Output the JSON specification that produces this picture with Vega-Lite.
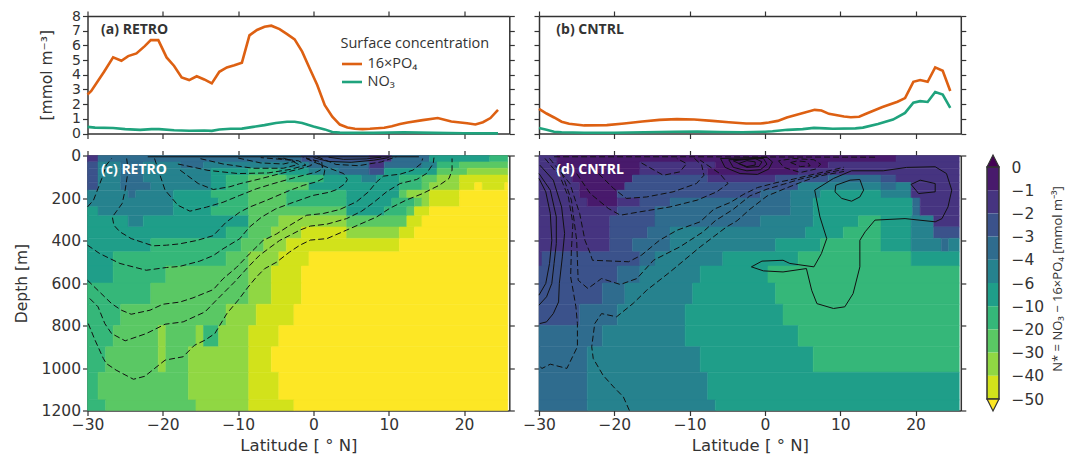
{"$schema":"https://vega.github.io/schema/vega-lite/v6.json","padding":{"left":13.5,"top":9,"right":6,"bottom":2},"background":"white","bounds":"flush","columns":3,"spacing":{"row":21.5,"column":29.5},"resolve":{"scale":{"color":"independent","stroke":"independent"}},
"config":{"view":{"stroke":null},"axis":{"grid":false,"zindex":1,"labelFlush":false,"labelOverlap":false,"format":"d","domainColor":"#333","tickColor":"#333","domainWidth":1.5,"tickWidth":1.2,"tickSize":5,"labelColor":"#333","titleColor":"#333","labelFont":"DejaVu Sans","titleFont":"DejaVu Sans","titleFontWeight":"normal","labelFontSize":15.5,"titleFontSize":15.5}},
"datasets":{
"surfA":[{"s":"16×PO₄","lat":-30,"v":2.66},{"s":"16×PO₄","lat":-29.5,"v":2.9},{"s":"16×PO₄","lat":-27.8,"v":4.2},{"s":"16×PO₄","lat":-26.6,"v":5.18},{"s":"16×PO₄","lat":-25.5,"v":4.95},{"s":"16×PO₄","lat":-24.6,"v":5.27},{"s":"16×PO₄","lat":-23.5,"v":5.45},{"s":"16×PO₄","lat":-22.4,"v":5.95},{"s":"16×PO₄","lat":-21.6,"v":6.36},{"s":"16×PO₄","lat":-20.6,"v":6.36},{"s":"16×PO₄","lat":-19.5,"v":5.18},{"s":"16×PO₄","lat":-18.5,"v":4.6},{"s":"16×PO₄","lat":-17.5,"v":3.82},{"s":"16×PO₄","lat":-16.5,"v":3.64},{"s":"16×PO₄","lat":-15.5,"v":3.9},{"s":"16×PO₄","lat":-14.5,"v":3.68},{"s":"16×PO₄","lat":-13.5,"v":3.41},{"s":"16×PO₄","lat":-12.5,"v":4.2},{"s":"16×PO₄","lat":-11.5,"v":4.5},{"s":"16×PO₄","lat":-10.5,"v":4.64},{"s":"16×PO₄","lat":-9.5,"v":4.82},{"s":"16×PO₄","lat":-8.5,"v":6.68},{"s":"16×PO₄","lat":-7.5,"v":7.05},{"s":"16×PO₄","lat":-6.5,"v":7.27},{"s":"16×PO₄","lat":-5.6,"v":7.34},{"s":"16×PO₄","lat":-4.5,"v":7.11},{"s":"16×PO₄","lat":-3.5,"v":6.77},{"s":"16×PO₄","lat":-2.5,"v":6.41},{"s":"16×PO₄","lat":-1.5,"v":5.57},{"s":"16×PO₄","lat":-0.5,"v":4.43},{"s":"16×PO₄","lat":0.5,"v":3.3},{"s":"16×PO₄","lat":1.5,"v":1.93},{"s":"16×PO₄","lat":2.5,"v":1.14},{"s":"16×PO₄","lat":3.5,"v":0.61},{"s":"16×PO₄","lat":4.5,"v":0.41},{"s":"16×PO₄","lat":5.5,"v":0.32},{"s":"16×PO₄","lat":6.5,"v":0.3},{"s":"16×PO₄","lat":7.5,"v":0.32},{"s":"16×PO₄","lat":9.4,"v":0.39},{"s":"16×PO₄","lat":10.4,"v":0.5},{"s":"16×PO₄","lat":11.5,"v":0.64},{"s":"16×PO₄","lat":12.5,"v":0.75},{"s":"16×PO₄","lat":14.5,"v":0.91},{"s":"16×PO₄","lat":16.5,"v":1.05},{"s":"16×PO₄","lat":18.3,"v":0.82},{"s":"16×PO₄","lat":20.4,"v":0.7},{"s":"16×PO₄","lat":21.5,"v":0.61},{"s":"16×PO₄","lat":22.5,"v":0.77},{"s":"16×PO₄","lat":23.5,"v":1.05},{"s":"16×PO₄","lat":24.5,"v":1.61},
{"s":"NO₃","lat":-30,"v":0.45},{"s":"NO₃","lat":-29,"v":0.4},{"s":"NO₃","lat":-26.6,"v":0.37},{"s":"NO₃","lat":-25,"v":0.3},{"s":"NO₃","lat":-23,"v":0.25},{"s":"NO₃","lat":-21.5,"v":0.3},{"s":"NO₃","lat":-20.5,"v":0.3},{"s":"NO₃","lat":-18.5,"v":0.22},{"s":"NO₃","lat":-16.5,"v":0.19},{"s":"NO₃","lat":-14.5,"v":0.2},{"s":"NO₃","lat":-13.5,"v":0.18},{"s":"NO₃","lat":-12.5,"v":0.27},{"s":"NO₃","lat":-11,"v":0.32},{"s":"NO₃","lat":-9.5,"v":0.33},{"s":"NO₃","lat":-8,"v":0.45},{"s":"NO₃","lat":-6.5,"v":0.57},{"s":"NO₃","lat":-5,"v":0.72},{"s":"NO₃","lat":-3.5,"v":0.8},{"s":"NO₃","lat":-2.5,"v":0.8},{"s":"NO₃","lat":-1.5,"v":0.72},{"s":"NO₃","lat":0,"v":0.48},{"s":"NO₃","lat":1.5,"v":0.28},{"s":"NO₃","lat":2.5,"v":0.1},{"s":"NO₃","lat":3.5,"v":0.06},{"s":"NO₃","lat":5,"v":0.04},{"s":"NO₃","lat":8,"v":0.04},{"s":"NO₃","lat":12,"v":0.08},{"s":"NO₃","lat":16,"v":0.04},{"s":"NO₃","lat":20,"v":0.02},{"s":"NO₃","lat":24.5,"v":0.01}],
"surfB":[{"s":"16×PO₄","lat":-30,"v":1.68},{"s":"16×PO₄","lat":-29,"v":1.36},{"s":"16×PO₄","lat":-28,"v":1.09},{"s":"16×PO₄","lat":-27,"v":0.8},{"s":"16×PO₄","lat":-26,"v":0.66},{"s":"16×PO₄","lat":-24,"v":0.55},{"s":"16×PO₄","lat":-21,"v":0.57},{"s":"16×PO₄","lat":-18.7,"v":0.68},{"s":"16×PO₄","lat":-16.3,"v":0.82},{"s":"16×PO₄","lat":-14,"v":0.93},{"s":"16×PO₄","lat":-11.7,"v":0.98},{"s":"16×PO₄","lat":-9.4,"v":0.95},{"s":"16×PO₄","lat":-7,"v":0.86},{"s":"16×PO₄","lat":-4.8,"v":0.77},{"s":"16×PO₄","lat":-2.5,"v":0.68},{"s":"16×PO₄","lat":-0.6,"v":0.68},{"s":"16×PO₄","lat":0.5,"v":0.75},{"s":"16×PO₄","lat":1.7,"v":0.86},{"s":"16×PO₄","lat":2.9,"v":1.09},{"s":"16×PO₄","lat":4.7,"v":1.34},{"s":"16×PO₄","lat":6.6,"v":1.61},{"s":"16×PO₄","lat":7.5,"v":1.57},{"s":"16×PO₄","lat":8.5,"v":1.34},{"s":"16×PO₄","lat":10.5,"v":1.16},{"s":"16×PO₄","lat":11.4,"v":1.11},{"s":"16×PO₄","lat":12.5,"v":1.14},{"s":"16×PO₄","lat":13.5,"v":1.36},{"s":"16×PO₄","lat":15.6,"v":1.8},{"s":"16×PO₄","lat":17.6,"v":2.16},{"s":"16×PO₄","lat":18.6,"v":2.41},{"s":"16×PO₄","lat":19.7,"v":3.52},{"s":"16×PO₄","lat":20.6,"v":3.64},{"s":"16×PO₄","lat":21.6,"v":3.52},{"s":"16×PO₄","lat":22.6,"v":4.5},{"s":"16×PO₄","lat":23.6,"v":4.27},{"s":"16×PO₄","lat":24.6,"v":2.89},
{"s":"NO₃","lat":-30,"v":0.38},{"s":"NO₃","lat":-29,"v":0.25},{"s":"NO₃","lat":-28,"v":0.12},{"s":"NO₃","lat":-27,"v":0.08},{"s":"NO₃","lat":-24,"v":0.05},{"s":"NO₃","lat":-20,"v":0.05},{"s":"NO₃","lat":-16,"v":0.08},{"s":"NO₃","lat":-12,"v":0.12},{"s":"NO₃","lat":-9,"v":0.13},{"s":"NO₃","lat":-6,"v":0.1},{"s":"NO₃","lat":-3,"v":0.09},{"s":"NO₃","lat":0,"v":0.12},{"s":"NO₃","lat":1,"v":0.15},{"s":"NO₃","lat":3,"v":0.25},{"s":"NO₃","lat":5,"v":0.3},{"s":"NO₃","lat":6.5,"v":0.38},{"s":"NO₃","lat":8,"v":0.35},{"s":"NO₃","lat":9,"v":0.32},{"s":"NO₃","lat":12,"v":0.35},{"s":"NO₃","lat":13,"v":0.4},{"s":"NO₃","lat":15,"v":0.65},{"s":"NO₃","lat":17,"v":0.95},{"s":"NO₃","lat":18.6,"v":1.4},{"s":"NO₃","lat":19.7,"v":2.1},{"s":"NO₃","lat":20.6,"v":2.2},{"s":"NO₃","lat":21.6,"v":2.15},{"s":"NO₃","lat":22.6,"v":2.83},{"s":"NO₃","lat":23.6,"v":2.65},{"s":"NO₃","lat":24.6,"v":1.75}],
"heatC":[
{"a":-30,"b":-28.6,"d0":0,"d1":30,"n":-2},{"a":-28.6,"b":-1.6,"d0":0,"d1":30,"n":-4},{"a":-1.6,"b":7.4,"d0":0,"d1":30,"n":-3},{"a":7.4,"b":10.4,"d0":0,"d1":30,"n":-2},{"a":10.4,"b":15.4,"d0":0,"d1":30,"n":-4},{"a":15.4,"b":23.4,"d0":0,"d1":30,"n":-10},{"a":23.4,"b":25.8,"d0":0,"d1":30,"n":-20},
{"a":-30,"b":-28.6,"d0":30,"d1":60,"n":-3},{"a":-28.6,"b":-25.6,"d0":30,"d1":60,"n":-6},{"a":-25.6,"b":-22.6,"d0":30,"d1":60,"n":-4},{"a":-22.6,"b":-17.6,"d0":30,"d1":60,"n":-6},{"a":-17.6,"b":-14.6,"d0":30,"d1":60,"n":-4},{"a":-14.6,"b":-0.6,"d0":30,"d1":60,"n":-6},{"a":-0.6,"b":7.4,"d0":30,"d1":60,"n":-4},{"a":7.4,"b":9.4,"d0":30,"d1":60,"n":-2},{"a":9.4,"b":14.4,"d0":30,"d1":60,"n":-4},{"a":14.4,"b":16.4,"d0":30,"d1":60,"n":-6},{"a":16.4,"b":19.4,"d0":30,"d1":60,"n":-20},{"a":19.4,"b":25.8,"d0":30,"d1":60,"n":-30},
{"a":-30,"b":-28.6,"d0":60,"d1":92,"n":-3},{"a":-28.6,"b":-25.6,"d0":60,"d1":92,"n":-6},{"a":-25.6,"b":-22.6,"d0":60,"d1":92,"n":-4},{"a":-22.6,"b":-13.6,"d0":60,"d1":92,"n":-6},{"a":-13.6,"b":-8.6,"d0":60,"d1":92,"n":-10},{"a":-8.6,"b":-4.6,"d0":60,"d1":92,"n":-20},{"a":-4.6,"b":-0.6,"d0":60,"d1":92,"n":-10},{"a":-0.6,"b":3.4,"d0":60,"d1":92,"n":-6},{"a":3.4,"b":7.4,"d0":60,"d1":92,"n":-4},{"a":7.4,"b":9.4,"d0":60,"d1":92,"n":-3},{"a":9.4,"b":16.4,"d0":60,"d1":92,"n":-10},{"a":16.4,"b":20.4,"d0":60,"d1":92,"n":-30},{"a":20.4,"b":25.8,"d0":60,"d1":92,"n":-40},
{"a":-30,"b":-28.6,"d0":92,"d1":127,"n":-3},{"a":-28.6,"b":-25.6,"d0":92,"d1":127,"n":-6},{"a":-25.6,"b":-22.6,"d0":92,"d1":127,"n":-4},{"a":-22.6,"b":-13.6,"d0":92,"d1":127,"n":-6},{"a":-13.6,"b":-11.6,"d0":92,"d1":127,"n":-10},{"a":-11.6,"b":-8.6,"d0":92,"d1":127,"n":-20},{"a":-8.6,"b":-3.6,"d0":92,"d1":127,"n":-30},{"a":-3.6,"b":1.4,"d0":92,"d1":127,"n":-20},{"a":1.4,"b":6.4,"d0":92,"d1":127,"n":-10},{"a":6.4,"b":8.4,"d0":92,"d1":127,"n":-6},{"a":8.4,"b":11.4,"d0":92,"d1":127,"n":-10},{"a":11.4,"b":14.4,"d0":92,"d1":127,"n":-20},{"a":14.4,"b":16.4,"d0":92,"d1":127,"n":-30},{"a":16.4,"b":19.4,"d0":92,"d1":127,"n":-40},{"a":19.4,"b":25.8,"d0":92,"d1":127,"n":-50},
{"a":-30,"b":-28.6,"d0":127,"d1":163,"n":-3},{"a":-28.6,"b":-25.6,"d0":127,"d1":163,"n":-6},{"a":-25.6,"b":-21.6,"d0":127,"d1":163,"n":-4},{"a":-21.6,"b":-13.6,"d0":127,"d1":163,"n":-6},{"a":-13.6,"b":-11.6,"d0":127,"d1":163,"n":-10},{"a":-11.6,"b":-8.6,"d0":127,"d1":163,"n":-20},{"a":-8.6,"b":-0.6,"d0":127,"d1":163,"n":-30},{"a":-0.6,"b":11.4,"d0":127,"d1":163,"n":-10},{"a":11.4,"b":14.4,"d0":127,"d1":163,"n":-20},{"a":14.4,"b":15.4,"d0":127,"d1":163,"n":-30},{"a":15.4,"b":19.4,"d0":127,"d1":163,"n":-40},{"a":19.4,"b":21.4,"d0":127,"d1":163,"n":-50},{"a":21.4,"b":22.4,"d0":127,"d1":163,"n":-60},{"a":22.4,"b":25.4,"d0":127,"d1":163,"n":-50},{"a":25.4,"b":25.8,"d0":127,"d1":163,"n":-60},
{"a":-30,"b":-24.6,"d0":163,"d1":200,"n":-6},{"a":-24.6,"b":-23.6,"d0":163,"d1":200,"n":-4},{"a":-23.6,"b":-18.6,"d0":163,"d1":200,"n":-6},{"a":-18.6,"b":-13.6,"d0":163,"d1":200,"n":-10},{"a":-13.6,"b":-8.6,"d0":163,"d1":200,"n":-20},{"a":-8.6,"b":-3.6,"d0":163,"d1":200,"n":-30},{"a":-3.6,"b":4.4,"d0":163,"d1":200,"n":-20},{"a":4.4,"b":11.4,"d0":163,"d1":200,"n":-10},{"a":11.4,"b":12.4,"d0":163,"d1":200,"n":-30},{"a":12.4,"b":15.4,"d0":163,"d1":200,"n":-40},{"a":15.4,"b":19.4,"d0":163,"d1":200,"n":-50},{"a":19.4,"b":25.8,"d0":163,"d1":200,"n":-60},
{"a":-30,"b":-18.6,"d0":200,"d1":241,"n":-6},{"a":-18.6,"b":-12.6,"d0":200,"d1":241,"n":-10},{"a":-12.6,"b":-8.6,"d0":200,"d1":241,"n":-20},{"a":-8.6,"b":-3.6,"d0":200,"d1":241,"n":-30},{"a":-3.6,"b":4.4,"d0":200,"d1":241,"n":-20},{"a":4.4,"b":10.4,"d0":200,"d1":241,"n":-10},{"a":10.4,"b":13.4,"d0":200,"d1":241,"n":-20},{"a":13.4,"b":14.4,"d0":200,"d1":241,"n":-30},{"a":14.4,"b":15.4,"d0":200,"d1":241,"n":-40},{"a":15.4,"b":19.4,"d0":200,"d1":241,"n":-50},{"a":19.4,"b":25.8,"d0":200,"d1":241,"n":-60},
{"a":-30,"b":-28.6,"d0":241,"d1":284,"n":-10},{"a":-28.6,"b":-18.6,"d0":241,"d1":284,"n":-6},{"a":-18.6,"b":-13.6,"d0":241,"d1":284,"n":-10},{"a":-13.6,"b":-8.6,"d0":241,"d1":284,"n":-20},{"a":-8.6,"b":4.4,"d0":241,"d1":284,"n":-30},{"a":4.4,"b":9.4,"d0":241,"d1":284,"n":-10},{"a":9.4,"b":12.4,"d0":241,"d1":284,"n":-20},{"a":12.4,"b":13.4,"d0":241,"d1":284,"n":-30},{"a":13.4,"b":15.4,"d0":241,"d1":284,"n":-50},{"a":15.4,"b":25.8,"d0":241,"d1":284,"n":-60},
{"a":-30,"b":-24.6,"d0":284,"d1":336,"n":-10},{"a":-24.6,"b":-22.6,"d0":284,"d1":336,"n":-6},{"a":-22.6,"b":-8.6,"d0":284,"d1":336,"n":-10},{"a":-8.6,"b":-4.6,"d0":284,"d1":336,"n":-30},{"a":-4.6,"b":4.4,"d0":284,"d1":336,"n":-40},{"a":4.4,"b":12.4,"d0":284,"d1":336,"n":-30},{"a":12.4,"b":14.4,"d0":284,"d1":336,"n":-50},{"a":14.4,"b":25.8,"d0":284,"d1":336,"n":-60},
{"a":-30,"b":-11.6,"d0":336,"d1":390,"n":-10},{"a":-11.6,"b":-8.6,"d0":336,"d1":390,"n":-20},{"a":-8.6,"b":-5.6,"d0":336,"d1":390,"n":-30},{"a":-5.6,"b":-1.6,"d0":336,"d1":390,"n":-40},{"a":-1.6,"b":4.4,"d0":336,"d1":390,"n":-50},{"a":4.4,"b":11.4,"d0":336,"d1":390,"n":-40},{"a":11.4,"b":13.4,"d0":336,"d1":390,"n":-50},{"a":13.4,"b":25.8,"d0":336,"d1":390,"n":-60},
{"a":-30,"b":-21.6,"d0":390,"d1":453,"n":-10},{"a":-21.6,"b":-9.6,"d0":390,"d1":453,"n":-20},{"a":-9.6,"b":-6.6,"d0":390,"d1":453,"n":-30},{"a":-6.6,"b":-3.6,"d0":390,"d1":453,"n":-40},{"a":-3.6,"b":11.4,"d0":390,"d1":453,"n":-50},{"a":11.4,"b":25.8,"d0":390,"d1":453,"n":-60},
{"a":-30,"b":-26.6,"d0":453,"d1":520,"n":-10},{"a":-26.6,"b":-11.6,"d0":453,"d1":520,"n":-20},{"a":-11.6,"b":-8.6,"d0":453,"d1":520,"n":-30},{"a":-8.6,"b":-4.6,"d0":453,"d1":520,"n":-40},{"a":-4.6,"b":-0.6,"d0":453,"d1":520,"n":-50},{"a":-0.6,"b":25.8,"d0":453,"d1":520,"n":-60},
{"a":-30,"b":-26.6,"d0":520,"d1":600,"n":-10},{"a":-26.6,"b":-19.6,"d0":520,"d1":600,"n":-20},{"a":-19.6,"b":-8.6,"d0":520,"d1":600,"n":-30},{"a":-8.6,"b":-5.6,"d0":520,"d1":600,"n":-40},{"a":-5.6,"b":-1.6,"d0":520,"d1":600,"n":-50},{"a":-1.6,"b":25.8,"d0":520,"d1":600,"n":-60},
{"a":-30,"b":-21.6,"d0":600,"d1":700,"n":-20},{"a":-21.6,"b":-8.6,"d0":600,"d1":700,"n":-30},{"a":-8.6,"b":-5.6,"d0":600,"d1":700,"n":-40},{"a":-5.6,"b":-1.6,"d0":600,"d1":700,"n":-50},{"a":-1.6,"b":25.8,"d0":600,"d1":700,"n":-60},
{"a":-30,"b":-25.6,"d0":700,"d1":800,"n":-20},{"a":-25.6,"b":-11.6,"d0":700,"d1":800,"n":-30},{"a":-11.6,"b":-7.6,"d0":700,"d1":800,"n":-40},{"a":-7.6,"b":-2.6,"d0":700,"d1":800,"n":-50},{"a":-2.6,"b":25.8,"d0":700,"d1":800,"n":-60},
{"a":-30,"b":-26.6,"d0":800,"d1":900,"n":-20},{"a":-26.6,"b":-20.6,"d0":800,"d1":900,"n":-30},{"a":-20.6,"b":-19.6,"d0":800,"d1":900,"n":-40},{"a":-19.6,"b":-15.6,"d0":800,"d1":900,"n":-30},{"a":-15.6,"b":-14.6,"d0":800,"d1":900,"n":-40},{"a":-14.6,"b":-12.6,"d0":800,"d1":900,"n":-20},{"a":-12.6,"b":-8.6,"d0":800,"d1":900,"n":-40},{"a":-8.6,"b":-4.6,"d0":800,"d1":900,"n":-50},{"a":-4.6,"b":25.8,"d0":800,"d1":900,"n":-60},
{"a":-30,"b":-27.6,"d0":900,"d1":1020,"n":-20},{"a":-27.6,"b":-20.6,"d0":900,"d1":1020,"n":-30},{"a":-20.6,"b":-19.6,"d0":900,"d1":1020,"n":-40},{"a":-19.6,"b":-16.6,"d0":900,"d1":1020,"n":-30},{"a":-16.6,"b":-8.6,"d0":900,"d1":1020,"n":-40},{"a":-8.6,"b":-5.6,"d0":900,"d1":1020,"n":-50},{"a":-5.6,"b":25.8,"d0":900,"d1":1020,"n":-60},
{"a":-30,"b":-28.6,"d0":1020,"d1":1150,"n":-20},{"a":-28.6,"b":-16.6,"d0":1020,"d1":1150,"n":-30},{"a":-16.6,"b":-8.6,"d0":1020,"d1":1150,"n":-40},{"a":-8.6,"b":-4.6,"d0":1020,"d1":1150,"n":-50},{"a":-4.6,"b":25.8,"d0":1020,"d1":1150,"n":-60},
{"a":-30,"b":-27.6,"d0":1150,"d1":1200,"n":-20},{"a":-27.6,"b":-15.6,"d0":1150,"d1":1200,"n":-30},{"a":-15.6,"b":-8.6,"d0":1150,"d1":1200,"n":-40},{"a":-8.6,"b":-2.6,"d0":1150,"d1":1200,"n":-50},{"a":-2.6,"b":25.8,"d0":1150,"d1":1200,"n":-60}],
"heatD":[
{"a":-30,"b":-27.6,"d0":0,"d1":30,"n":-2},{"a":-27.6,"b":17.4,"d0":0,"d1":30,"n":-1},{"a":17.4,"b":25.8,"d0":0,"d1":30,"n":-2},
{"a":-30,"b":-27.6,"d0":30,"d1":60,"n":-2},{"a":-27.6,"b":-16.6,"d0":30,"d1":60,"n":-1},{"a":-16.6,"b":-6.6,"d0":30,"d1":60,"n":-2},{"a":-6.6,"b":8.4,"d0":30,"d1":60,"n":-1},{"a":8.4,"b":25.8,"d0":30,"d1":60,"n":-2},
{"a":-30,"b":-25.6,"d0":60,"d1":92,"n":-2},{"a":-25.6,"b":-16.6,"d0":60,"d1":92,"n":-1},{"a":-16.6,"b":-7.6,"d0":60,"d1":92,"n":-2},{"a":-7.6,"b":4.4,"d0":60,"d1":92,"n":-1},{"a":4.4,"b":25.8,"d0":60,"d1":92,"n":-2},
{"a":-30,"b":-25.6,"d0":92,"d1":127,"n":-2},{"a":-25.6,"b":-17.6,"d0":92,"d1":127,"n":-1},{"a":-17.6,"b":-7.6,"d0":92,"d1":127,"n":-3},{"a":-7.6,"b":1.4,"d0":92,"d1":127,"n":-2},{"a":1.4,"b":8.4,"d0":92,"d1":127,"n":-3},{"a":8.4,"b":15.4,"d0":92,"d1":127,"n":-4},{"a":15.4,"b":17.4,"d0":92,"d1":127,"n":-3},{"a":17.4,"b":25.8,"d0":92,"d1":127,"n":-2},
{"a":-30,"b":-24.6,"d0":127,"d1":163,"n":-2},{"a":-24.6,"b":-18.6,"d0":127,"d1":163,"n":-1},{"a":-18.6,"b":4.4,"d0":127,"d1":163,"n":-3},{"a":4.4,"b":15.4,"d0":127,"d1":163,"n":-6},{"a":15.4,"b":17.4,"d0":127,"d1":163,"n":-4},{"a":17.4,"b":19.4,"d0":127,"d1":163,"n":-6},{"a":19.4,"b":25.8,"d0":127,"d1":163,"n":-2},
{"a":-30,"b":-24.6,"d0":163,"d1":200,"n":-2},{"a":-24.6,"b":-19.6,"d0":163,"d1":200,"n":-1},{"a":-19.6,"b":-0.6,"d0":163,"d1":200,"n":-3},{"a":-0.6,"b":3.4,"d0":163,"d1":200,"n":-4},{"a":3.4,"b":7.4,"d0":163,"d1":200,"n":-6},{"a":7.4,"b":15.4,"d0":163,"d1":200,"n":-10},{"a":15.4,"b":19.4,"d0":163,"d1":200,"n":-6},{"a":19.4,"b":25.8,"d0":163,"d1":200,"n":-2},
{"a":-30,"b":-23.6,"d0":200,"d1":241,"n":-2},{"a":-23.6,"b":-19.6,"d0":200,"d1":241,"n":-1},{"a":-19.6,"b":-16.6,"d0":200,"d1":241,"n":-2},{"a":-16.6,"b":-12.6,"d0":200,"d1":241,"n":-3},{"a":-12.6,"b":3.4,"d0":200,"d1":241,"n":-4},{"a":3.4,"b":6.4,"d0":200,"d1":241,"n":-6},{"a":6.4,"b":19.6,"d0":200,"d1":241,"n":-10},{"a":19.6,"b":20.6,"d0":200,"d1":241,"n":-4},{"a":20.6,"b":25.8,"d0":200,"d1":241,"n":-2},
{"a":-30,"b":-19.6,"d0":241,"d1":284,"n":-2},{"a":-19.6,"b":-14.6,"d0":241,"d1":284,"n":-3},{"a":-14.6,"b":3.4,"d0":241,"d1":284,"n":-4},{"a":3.4,"b":6.4,"d0":241,"d1":284,"n":-6},{"a":6.4,"b":19.6,"d0":241,"d1":284,"n":-10},{"a":19.6,"b":20.6,"d0":241,"d1":284,"n":-4},{"a":20.6,"b":25.8,"d0":241,"d1":284,"n":-2},
{"a":-30,"b":-20.6,"d0":284,"d1":336,"n":-2},{"a":-20.6,"b":-14.6,"d0":284,"d1":336,"n":-3},{"a":-14.6,"b":-0.6,"d0":284,"d1":336,"n":-4},{"a":-0.6,"b":6.4,"d0":284,"d1":336,"n":-6},{"a":6.4,"b":12.4,"d0":284,"d1":336,"n":-10},{"a":12.4,"b":15.4,"d0":284,"d1":336,"n":-20},{"a":15.4,"b":19.4,"d0":284,"d1":336,"n":-10},{"a":19.4,"b":22.4,"d0":284,"d1":336,"n":-6},{"a":22.4,"b":25.8,"d0":284,"d1":336,"n":-2},
{"a":-30,"b":-20.6,"d0":336,"d1":390,"n":-2},{"a":-20.6,"b":-15.6,"d0":336,"d1":390,"n":-3},{"a":-15.6,"b":-12.6,"d0":336,"d1":390,"n":-4},{"a":-12.6,"b":5.4,"d0":336,"d1":390,"n":-6},{"a":5.4,"b":10.4,"d0":336,"d1":390,"n":-10},{"a":10.4,"b":15.4,"d0":336,"d1":390,"n":-20},{"a":15.4,"b":19.4,"d0":336,"d1":390,"n":-10},{"a":19.4,"b":22.4,"d0":336,"d1":390,"n":-6},{"a":22.4,"b":25.8,"d0":336,"d1":390,"n":-3},
{"a":-30,"b":-20.6,"d0":390,"d1":453,"n":-2},{"a":-20.6,"b":-17.6,"d0":390,"d1":453,"n":-3},{"a":-17.6,"b":-12.6,"d0":390,"d1":453,"n":-4},{"a":-12.6,"b":1.4,"d0":390,"d1":453,"n":-6},{"a":1.4,"b":7.4,"d0":390,"d1":453,"n":-10},{"a":7.4,"b":15.4,"d0":390,"d1":453,"n":-20},{"a":15.4,"b":19.4,"d0":390,"d1":453,"n":-10},{"a":19.4,"b":23.4,"d0":390,"d1":453,"n":-6},{"a":23.4,"b":24.4,"d0":390,"d1":453,"n":-4},{"a":24.4,"b":25.8,"d0":390,"d1":453,"n":-6},
{"a":-30,"b":-29.6,"d0":453,"d1":520,"n":-2},{"a":-29.6,"b":-16.6,"d0":453,"d1":520,"n":-3},{"a":-16.6,"b":-14.6,"d0":453,"d1":520,"n":-4},{"a":-14.6,"b":-5.6,"d0":453,"d1":520,"n":-6},{"a":-5.6,"b":4.4,"d0":453,"d1":520,"n":-10},{"a":4.4,"b":19.4,"d0":453,"d1":520,"n":-20},{"a":19.4,"b":25.8,"d0":453,"d1":520,"n":-10},
{"a":-30,"b":-19.6,"d0":520,"d1":600,"n":-3},{"a":-19.6,"b":-16.6,"d0":520,"d1":600,"n":-4},{"a":-16.6,"b":-8.6,"d0":520,"d1":600,"n":-6},{"a":-8.6,"b":0.4,"d0":520,"d1":600,"n":-10},{"a":0.4,"b":25.8,"d0":520,"d1":600,"n":-20},
{"a":-30,"b":-21.6,"d0":600,"d1":700,"n":-3},{"a":-21.6,"b":-18.6,"d0":600,"d1":700,"n":-4},{"a":-18.6,"b":-9.6,"d0":600,"d1":700,"n":-6},{"a":-9.6,"b":1.4,"d0":600,"d1":700,"n":-10},{"a":1.4,"b":25.8,"d0":600,"d1":700,"n":-20},
{"a":-30,"b":-24.6,"d0":700,"d1":800,"n":-3},{"a":-24.6,"b":-19.6,"d0":700,"d1":800,"n":-4},{"a":-19.6,"b":-10.6,"d0":700,"d1":800,"n":-6},{"a":-10.6,"b":2.4,"d0":700,"d1":800,"n":-10},{"a":2.4,"b":25.8,"d0":700,"d1":800,"n":-20},
{"a":-30,"b":-21.6,"d0":800,"d1":900,"n":-4},{"a":-21.6,"b":-10.6,"d0":800,"d1":900,"n":-6},{"a":-10.6,"b":4.4,"d0":800,"d1":900,"n":-10},{"a":4.4,"b":25.8,"d0":800,"d1":900,"n":-20},
{"a":-30,"b":-23.6,"d0":900,"d1":1020,"n":-4},{"a":-23.6,"b":-8.6,"d0":900,"d1":1020,"n":-6},{"a":-8.6,"b":6.4,"d0":900,"d1":1020,"n":-10},{"a":6.4,"b":25.8,"d0":900,"d1":1020,"n":-20},
{"a":-30,"b":-23.6,"d0":1020,"d1":1150,"n":-4},{"a":-23.6,"b":-7.6,"d0":1020,"d1":1150,"n":-6},{"a":-7.6,"b":25.8,"d0":1020,"d1":1150,"n":-10},
{"a":-30,"b":-23.6,"d0":1150,"d1":1200,"n":-4},{"a":-23.6,"b":-6.6,"d0":1150,"d1":1200,"n":-6},{"a":-6.6,"b":25.8,"d0":1150,"d1":1200,"n":-10}],
"cDash":[
{"id":1,"lat":-30,"d":242},{"id":1,"lat":-29.2,"d":210},{"id":1,"lat":-28.6,"d":155},{"id":1,"lat":-28.1,"d":108},{"id":1,"lat":-27.5,"d":45},{"id":1,"lat":-26.8,"d":14},
{"id":2,"lat":-24.8,"d":14},{"id":2,"lat":-24.6,"d":69},{"id":2,"lat":-25,"d":163},{"id":2,"lat":-25.4,"d":226},{"id":2,"lat":-26.2,"d":265},{"id":2,"lat":-26.7,"d":289},{"id":2,"lat":-26.5,"d":328},{"id":2,"lat":-25.7,"d":359},{"id":2,"lat":-24.2,"d":391},{"id":2,"lat":-21.3,"d":425},{"id":2,"lat":-19.5,"d":422},{"id":2,"lat":-17.8,"d":416},{"id":2,"lat":-15.5,"d":400},{"id":2,"lat":-13.3,"d":377},{"id":2,"lat":-11.6,"d":314},{"id":2,"lat":-9.8,"d":267},{"id":2,"lat":-8.5,"d":243},{"id":2,"lat":-6.3,"d":212},{"id":2,"lat":-3.2,"d":165},{"id":2,"lat":-1.3,"d":140},{"id":2,"lat":0.4,"d":124},{"id":2,"lat":1.3,"d":108},{"id":2,"lat":1.5,"d":69},{"id":2,"lat":1.1,"d":45},{"id":2,"lat":0,"d":22},
{"id":3,"lat":-21.1,"d":14},{"id":3,"lat":-20.6,"d":69},{"id":3,"lat":-19.7,"d":163},{"id":3,"lat":-18,"d":234},{"id":3,"lat":-16.4,"d":262},{"id":3,"lat":-14.2,"d":243},{"id":3,"lat":-12,"d":220},{"id":3,"lat":-9.8,"d":188},{"id":3,"lat":-7.6,"d":157},{"id":3,"lat":-5.4,"d":133},{"id":3,"lat":-2.3,"d":102},{"id":3,"lat":0.4,"d":78},{"id":3,"lat":1.2,"d":63},{"id":3,"lat":1.1,"d":31},{"id":3,"lat":-0.9,"d":13},
{"id":4,"lat":-17.7,"d":69},{"id":4,"lat":-15.3,"d":132},{"id":4,"lat":-13.3,"d":160},{"id":4,"lat":-11.1,"d":147},{"id":4,"lat":-9.8,"d":133},{"id":4,"lat":-7.1,"d":110},{"id":4,"lat":-4.5,"d":86},{"id":4,"lat":-1.8,"d":63},{"id":4,"lat":-0.3,"d":47},{"id":4,"lat":-0.3,"d":24},{"id":4,"lat":-1.4,"d":8},
{"id":5,"lat":-30,"d":422},{"id":5,"lat":-28.4,"d":461},{"id":5,"lat":-25.7,"d":508},{"id":5,"lat":-22.2,"d":540},{"id":5,"lat":-19.5,"d":527},{"id":5,"lat":-17.76,"d":522},{"id":5,"lat":-15.1,"d":497},{"id":5,"lat":-13.3,"d":471},{"id":5,"lat":-12,"d":439},{"id":5,"lat":-9.8,"d":392},{"id":5,"lat":-8.5,"d":337},{"id":5,"lat":-6.9,"d":290},{"id":5,"lat":-5,"d":251},{"id":5,"lat":-3.2,"d":227},{"id":5,"lat":-0.07,"d":188},{"id":5,"lat":2.1,"d":173},{"id":5,"lat":3.1,"d":160},{"id":5,"lat":4.2,"d":132},{"id":5,"lat":4.5,"d":113},{"id":5,"lat":4,"d":85},{"id":5,"lat":2.2,"d":61},{"id":5,"lat":0,"d":30},{"id":5,"lat":-1.3,"d":5},
{"id":6,"lat":-30,"d":587},{"id":6,"lat":-28.4,"d":642},{"id":6,"lat":-26.8,"d":697},{"id":6,"lat":-25.5,"d":728},{"id":6,"lat":-24.2,"d":747},{"id":6,"lat":-21.7,"d":728},{"id":6,"lat":-20,"d":700},{"id":6,"lat":-17.76,"d":690},{"id":6,"lat":-16,"d":670},{"id":6,"lat":-13.3,"d":631},{"id":6,"lat":-12,"d":580},{"id":6,"lat":-10.2,"d":526},{"id":6,"lat":-8.5,"d":463},{"id":6,"lat":-6.7,"d":400},{"id":6,"lat":-4.9,"d":369},{"id":6,"lat":-3.2,"d":330},{"id":6,"lat":-0.9,"d":281},{"id":6,"lat":1.3,"d":273},{"id":6,"lat":3.5,"d":254},{"id":6,"lat":5.7,"d":218},{"id":6,"lat":7.3,"d":171},{"id":6,"lat":8.4,"d":124},{"id":6,"lat":9.3,"d":97},{"id":6,"lat":11.5,"d":88},{"id":6,"lat":13.2,"d":69},{"id":6,"lat":14.3,"d":38},{"id":6,"lat":14.5,"d":14},
{"id":7,"lat":-29.7,"d":673},{"id":7,"lat":-28.6,"d":712},{"id":7,"lat":-27.7,"d":791},{"id":7,"lat":-26.8,"d":838},{"id":7,"lat":-25,"d":872},{"id":7,"lat":-22.2,"d":838},{"id":7,"lat":-19.7,"d":794},{"id":7,"lat":-17.3,"d":783},{"id":7,"lat":-14.4,"d":736},{"id":7,"lat":-12.9,"d":681},{"id":7,"lat":-10.5,"d":596},{"id":7,"lat":-8.7,"d":526},{"id":7,"lat":-7.2,"d":471},{"id":7,"lat":-6,"d":439},{"id":7,"lat":-4.5,"d":400},{"id":7,"lat":-3.2,"d":377},{"id":7,"lat":-1.8,"d":351},{"id":7,"lat":-0.4,"d":332},{"id":7,"lat":1.8,"d":323},{"id":7,"lat":4.4,"d":297},{"id":7,"lat":6.4,"d":262},{"id":7,"lat":8.1,"d":218},{"id":7,"lat":9.7,"d":171},{"id":7,"lat":11.5,"d":132},{"id":7,"lat":13.7,"d":113},{"id":7,"lat":15,"d":85},{"id":7,"lat":15.9,"d":38},{"id":7,"lat":16,"d":10},
{"id":8,"lat":-29.9,"d":791},{"id":8,"lat":-29,"d":869},{"id":8,"lat":-27.9,"d":955},{"id":8,"lat":-27.5,"d":979},{"id":8,"lat":-26.2,"d":1010},{"id":8,"lat":-23.9,"d":1053},{"id":8,"lat":-22.4,"d":1039},{"id":8,"lat":-19.7,"d":963},{"id":8,"lat":-17.3,"d":947},{"id":8,"lat":-15.8,"d":893},{"id":8,"lat":-14.4,"d":869},{"id":8,"lat":-13.1,"d":838},{"id":8,"lat":-11.5,"d":744},{"id":8,"lat":-10,"d":681},{"id":8,"lat":-8.7,"d":620},{"id":8,"lat":-7.6,"d":573},{"id":8,"lat":-6.5,"d":533},{"id":8,"lat":-4.9,"d":502},{"id":8,"lat":-3.2,"d":455},{"id":8,"lat":-1.8,"d":422},{"id":8,"lat":-0.4,"d":398},{"id":8,"lat":1.8,"d":391},{"id":8,"lat":4.4,"d":351},{"id":8,"lat":6.2,"d":323},{"id":8,"lat":8.4,"d":289},{"id":8,"lat":10.1,"d":249},{"id":8,"lat":12.3,"d":210},{"id":8,"lat":14.5,"d":179},{"id":8,"lat":16.7,"d":140},{"id":8,"lat":18,"d":108},{"id":8,"lat":18.4,"d":69},{"id":8,"lat":18.4,"d":14},
{"id":9,"lat":-18,"d":40},{"id":9,"lat":-14,"d":70},{"id":9,"lat":-10,"d":85},{"id":9,"lat":-6,"d":82},{"id":9,"lat":-3,"d":65},{"id":9,"lat":-1,"d":45},{"id":9,"lat":-2,"d":25},{"id":9,"lat":-5,"d":12},
{"id":10,"lat":-15,"d":15},{"id":10,"lat":-12,"d":40},{"id":10,"lat":-8,"d":60},{"id":10,"lat":-4,"d":60},{"id":10,"lat":-2,"d":42},{"id":10,"lat":-3,"d":22},{"id":10,"lat":-7,"d":10},
{"id":11,"lat":-10,"d":12},{"id":11,"lat":-7,"d":35},{"id":11,"lat":-4,"d":40},{"id":11,"lat":-2.5,"d":28},{"id":11,"lat":-4,"d":12},
{"id":12,"lat":0.5,"d":6},{"id":12,"lat":3,"d":42},{"id":12,"lat":6,"d":48},{"id":12,"lat":9,"d":30},{"id":12,"lat":11,"d":6}],
"cSolid":[
{"id":1,"lat":0,"d":10},{"id":1,"lat":2,"d":28},{"id":1,"lat":5,"d":32},{"id":1,"lat":8,"d":22},{"id":1,"lat":10,"d":10},
{"id":2,"lat":2,"d":8},{"id":2,"lat":4,"d":18},{"id":2,"lat":7,"d":16},{"id":2,"lat":9,"d":8},
{"id":3,"lat":-22,"d":6},{"id":3,"lat":-5,"d":6},{"id":3,"lat":14,"d":6}],
"dDash":[
{"id":4,"lat":-29.2,"d":14},{"id":4,"lat":-27.2,"d":100},{"id":4,"lat":-26.1,"d":195},{"id":4,"lat":-25.5,"d":320},{"id":4,"lat":-25.7,"d":445},{"id":4,"lat":-25.8,"d":571},{"id":4,"lat":-25.4,"d":650},{"id":4,"lat":-25.1,"d":712},{"id":4,"lat":-24.9,"d":791},{"id":4,"lat":-24.9,"d":900},{"id":4,"lat":-26.3,"d":1002},{"id":4,"lat":-28.5,"d":982},{"id":4,"lat":-29.6,"d":1002},{"id":4,"lat":-30,"d":990},
{"id":5,"lat":-28.6,"d":14},{"id":5,"lat":-25.9,"d":132},{"id":5,"lat":-24.6,"d":273},{"id":5,"lat":-23.9,"d":399},{"id":5,"lat":-23.2,"d":461},{"id":5,"lat":-22.9,"d":493},{"id":5,"lat":-18.1,"d":500},{"id":5,"lat":-16.4,"d":469},{"id":5,"lat":-14,"d":399},{"id":5,"lat":-11.7,"d":352},{"id":5,"lat":-8.6,"d":312},{"id":5,"lat":-6.8,"d":253},{"id":5,"lat":-4.6,"d":221},{"id":5,"lat":-2.8,"d":182},{"id":5,"lat":-1,"d":151},{"id":5,"lat":1.6,"d":127},{"id":5,"lat":3.8,"d":111},{"id":5,"lat":6.5,"d":88},{"id":5,"lat":8.5,"d":72},{"id":5,"lat":10.5,"d":55},
{"id":6,"lat":-27.4,"d":38},{"id":6,"lat":-25.7,"d":210},{"id":6,"lat":-25,"d":399},{"id":6,"lat":-24.8,"d":587},{"id":6,"lat":-23.5,"d":626},{"id":6,"lat":-21.7,"d":579},{"id":6,"lat":-19.2,"d":607},{"id":6,"lat":-17,"d":579},{"id":6,"lat":-14.8,"d":493},{"id":6,"lat":-11.3,"d":430},{"id":6,"lat":-8.2,"d":359},{"id":6,"lat":-6.6,"d":307},{"id":6,"lat":-4.2,"d":253},{"id":6,"lat":-2,"d":190},{"id":6,"lat":0.3,"d":158},{"id":6,"lat":2.5,"d":135},{"id":6,"lat":4.7,"d":111},{"id":6,"lat":6.9,"d":93},{"id":6,"lat":8.5,"d":80},{"id":6,"lat":10.5,"d":65},
{"id":7,"lat":-18,"d":1200},{"id":7,"lat":-18.8,"d":1136},{"id":7,"lat":-20.1,"d":1089},{"id":7,"lat":-21.5,"d":1034},{"id":7,"lat":-22.8,"d":955},{"id":7,"lat":-23,"d":900},{"id":7,"lat":-22.6,"d":791},{"id":7,"lat":-21.7,"d":744},{"id":7,"lat":-19.7,"d":759},{"id":7,"lat":-17.5,"d":696},{"id":7,"lat":-15.7,"d":634},{"id":7,"lat":-12.6,"d":548},{"id":7,"lat":-8.6,"d":430},{"id":7,"lat":-5.1,"d":336},{"id":7,"lat":-3.7,"d":307},{"id":7,"lat":-2,"d":253},{"id":7,"lat":0.3,"d":190},{"id":7,"lat":2.5,"d":158},{"id":7,"lat":4.7,"d":127},{"id":7,"lat":6.9,"d":99},{"id":7,"lat":8.5,"d":88},{"id":7,"lat":10.5,"d":75},
{"id":8,"lat":-25,"d":85},{"id":8,"lat":-23.2,"d":179},{"id":8,"lat":-20.8,"d":249},{"id":8,"lat":-19.2,"d":281},{"id":8,"lat":-16.6,"d":265},{"id":8,"lat":-12.6,"d":242},{"id":8,"lat":-9,"d":210},{"id":8,"lat":-6.4,"d":171},{"id":8,"lat":-4.9,"d":132},{"id":8,"lat":-6,"d":85},{"id":8,"lat":-8.6,"d":22},
{"id":9,"lat":-22.1,"d":85},{"id":9,"lat":-20.1,"d":155},{"id":9,"lat":-18.4,"d":202},{"id":9,"lat":-15.7,"d":195},{"id":9,"lat":-12.2,"d":171},{"id":9,"lat":-9.1,"d":132},{"id":9,"lat":-8.1,"d":93},{"id":9,"lat":-8.4,"d":45},{"id":9,"lat":-9.5,"d":9},
{"id":10,"lat":-16.4,"d":35},{"id":10,"lat":-13.5,"d":93},{"id":10,"lat":-11.3,"d":77},{"id":10,"lat":-10.4,"d":38},{"id":10,"lat":-11.7,"d":14},
{"id":11,"lat":1.8,"d":25},{"id":11,"lat":2.5,"d":56},{"id":11,"lat":4.7,"d":80},{"id":11,"lat":6.7,"d":64},{"id":11,"lat":7.4,"d":41},{"id":11,"lat":6.5,"d":20},{"id":11,"lat":3.8,"d":14},{"id":11,"lat":1.8,"d":25},
{"id":12,"lat":3.4,"d":33},{"id":12,"lat":4.7,"d":52},{"id":12,"lat":6,"d":49},{"id":12,"lat":5.6,"d":30},{"id":12,"lat":4.3,"d":25},{"id":12,"lat":3.4,"d":33},
{"id":13,"lat":-28,"d":6},{"id":13,"lat":-10,"d":6},{"id":13,"lat":15,"d":8}],
"dSolid":[
{"id":1,"lat":-30,"d":108},{"id":1,"lat":-29.1,"d":171},{"id":1,"lat":-28.5,"d":273},{"id":1,"lat":-28.3,"d":399},{"id":1,"lat":-28.6,"d":508},{"id":1,"lat":-29.1,"d":602},{"id":1,"lat":-30,"d":657},
{"id":2,"lat":-30,"d":85},{"id":2,"lat":-28.5,"d":163},{"id":2,"lat":-27.7,"d":289},{"id":2,"lat":-27.7,"d":414},{"id":2,"lat":-28,"d":508},{"id":2,"lat":-28.3,"d":602},{"id":2,"lat":-29,"d":665},{"id":2,"lat":-30,"d":704},
{"id":3,"lat":-29.9,"d":45},{"id":3,"lat":-28.1,"d":116},{"id":3,"lat":-27,"d":242},{"id":3,"lat":-26.6,"d":367},{"id":3,"lat":-26.9,"d":477},{"id":3,"lat":-27.3,"d":602},{"id":3,"lat":-27.4,"d":689},{"id":3,"lat":-28.1,"d":744},{"id":3,"lat":-29,"d":783},{"id":3,"lat":-29.9,"d":791},
{"id":14,"lat":-5.9,"d":14},{"id":14,"lat":-5.3,"d":56},{"id":14,"lat":-3.3,"d":85},{"id":14,"lat":-1,"d":89},{"id":14,"lat":0.5,"d":64},{"id":14,"lat":1,"d":30},{"id":14,"lat":0.27,"d":9},{"id":14,"lat":-5.9,"d":14},
{"id":15,"lat":-4.8,"d":20},{"id":15,"lat":-4.2,"d":56},{"id":15,"lat":-2.4,"d":72},{"id":15,"lat":-0.6,"d":67},{"id":15,"lat":0.27,"d":41},{"id":15,"lat":-0.2,"d":14},{"id":15,"lat":-4.8,"d":20},
{"id":16,"lat":-4.2,"d":25},{"id":16,"lat":-2.4,"d":56},{"id":16,"lat":-0.8,"d":52},{"id":16,"lat":-0.4,"d":30},{"id":16,"lat":-1.3,"d":14},{"id":16,"lat":-4.2,"d":25},
{"id":17,"lat":-3.5,"d":38},{"id":17,"lat":-2.4,"d":52},{"id":17,"lat":-1.3,"d":45},{"id":17,"lat":-1.3,"d":30},{"id":17,"lat":-2.4,"d":24},{"id":17,"lat":-3.5,"d":38},
{"id":18,"lat":22.6,"d":312},{"id":18,"lat":23.5,"d":297},{"id":18,"lat":24.3,"d":242},{"id":18,"lat":24.8,"d":163},{"id":18,"lat":24.1,"d":85},{"id":18,"lat":22.6,"d":53},{"id":18,"lat":18.8,"d":56},{"id":18,"lat":15.7,"d":72},{"id":18,"lat":11.5,"d":72},{"id":18,"lat":9.1,"d":108},{"id":18,"lat":6.6,"d":163},{"id":18,"lat":7.3,"d":289},{"id":18,"lat":8.2,"d":391},{"id":18,"lat":7.5,"d":461},{"id":18,"lat":6.5,"d":524},{"id":18,"lat":3.3,"d":508},{"id":18,"lat":2.4,"d":493},{"id":18,"lat":-0.4,"d":497},{"id":18,"lat":-1.8,"d":524},{"id":18,"lat":-0.2,"d":543},{"id":18,"lat":2.4,"d":548},{"id":18,"lat":5.5,"d":532},{"id":18,"lat":6.2,"d":634},{"id":18,"lat":6.9,"d":697},{"id":18,"lat":9.1,"d":720},{"id":18,"lat":10.6,"d":712},{"id":18,"lat":11.7,"d":650},{"id":18,"lat":12.6,"d":524},{"id":18,"lat":12.6,"d":399},{"id":18,"lat":13.3,"d":359},{"id":18,"lat":14.6,"d":304},{"id":18,"lat":18.6,"d":297},{"id":18,"lat":22.6,"d":312},
{"id":19,"lat":9.4,"d":140},{"id":19,"lat":9.3,"d":171},{"id":19,"lat":10.2,"d":202},{"id":19,"lat":11.5,"d":215},{"id":19,"lat":12.6,"d":195},{"id":19,"lat":13.1,"d":163},{"id":19,"lat":12.6,"d":113},{"id":19,"lat":11.3,"d":116},{"id":19,"lat":9.4,"d":140},
{"id":20,"lat":19.4,"d":136},{"id":20,"lat":20.4,"d":179},{"id":20,"lat":22.6,"d":171},{"id":20,"lat":22.6,"d":132},{"id":20,"lat":20.6,"d":116},{"id":20,"lat":19.4,"d":136}],
"bands":[{"i0":0,"i1":1,"n":-1},{"i0":1,"i1":2,"n":-2},{"i0":2,"i1":3,"n":-3},{"i0":3,"i1":4,"n":-4},{"i0":4,"i1":5,"n":-6},{"i0":5,"i1":6,"n":-10},{"i0":6,"i1":7,"n":-20},{"i0":7,"i1":8,"n":-30},{"i0":8,"i1":9,"n":-40},{"i0":9,"i1":10,"n":-50}]
},
"concat":[
{"width":421.8,"height":117.5,"layer":[
{"data":{"name":"surfA"},"mark":{"type":"line","strokeWidth":2.6},"encoding":{"x":{"field":"lat","type":"quantitative","scale":{"domain":[-30,26],"nice":false,"zero":false},"axis":{"orient":"bottom","values":[-30,-20,-10,0,10,20],"labels":false,"title":null}},"y":{"field":"v","type":"quantitative","scale":{"domain":[0,8],"nice":false},"axis":{"orient":"left","values":[0,1,2,3,4,5,6,7,8],"labelFontSize":14,"title":"[mmol m⁻³]","titlePadding":17}},"color":{"field":"s","type":"nominal","scale":{"domain":["16×PO₄","NO₃"],"range":["#dd6012","#1fa37d"]},"legend":{"orient":"none","legendX":253,"legendY":21,"title":"Surface concentration","titleFont":"Open Sans","titleFontSize":14.5,"titleFontWeight":"normal","titleColor":"#333","labelFont":"Open Sans","labelFontSize":14.5,"labelColor":"#333","symbolType":"stroke","symbolStrokeWidth":2.6,"symbolSize":400,"rowPadding":0,"titlePadding":1,"padding":0}}}},
{"data":{"values":[{"lat":-28.2,"v":7.05,"t":"(a) RETRO"}]},"mark":{"type":"text","align":"left","baseline":"middle","font":"Open Sans","fontWeight":"bold","fontSize":14,"color":"#333"},"encoding":{"x":{"field":"lat","type":"quantitative","axis":null,"scale":{"domain":[-30,26],"nice":false,"zero":false}},"y":{"field":"v","type":"quantitative","axis":null,"scale":{"domain":[0,8],"nice":false}},"text":{"field":"t"}}},
{"data":{"values":[{"lat":0,"v":0}]},"mark":{"type":"point","opacity":0},"encoding":{"x":{"field":"lat","type":"quantitative","scale":{"domain":[-30,26],"nice":false,"zero":false},"axis":{"orient":"top","values":[-30,-20,-10,0,10,20],"labels":false,"title":null}},"y":{"field":"v","type":"quantitative","scale":{"domain":[0,8],"nice":false},"axis":{"orient":"right","values":[0,1,2,3,4,5,6,7,8],"labels":false,"title":null}}}}
],"resolve":{"axis":{"x":"independent","y":"independent"}}},
{"width":421.8,"height":117.5,"layer":[
{"data":{"name":"surfB"},"mark":{"type":"line","strokeWidth":2.6},"encoding":{"x":{"field":"lat","type":"quantitative","scale":{"domain":[-30,26],"nice":false,"zero":false},"axis":{"orient":"bottom","values":[-30,-20,-10,0,10,20],"labels":false,"title":null}},"y":{"field":"v","type":"quantitative","scale":{"domain":[0,8],"nice":false},"axis":{"orient":"left","values":[0,1,2,3,4,5,6,7,8],"labels":false,"title":null}},"color":{"field":"s","type":"nominal","scale":{"domain":["16×PO₄","NO₃"],"range":["#dd6012","#1fa37d"]},"legend":null}}},
{"data":{"values":[{"lat":-27.7,"v":7.05,"t":"(b) CNTRL"}]},"mark":{"type":"text","align":"left","baseline":"middle","font":"Open Sans","fontWeight":"bold","fontSize":14,"color":"#333"},"encoding":{"x":{"field":"lat","type":"quantitative","axis":null,"scale":{"domain":[-30,26],"nice":false,"zero":false}},"y":{"field":"v","type":"quantitative","axis":null,"scale":{"domain":[0,8],"nice":false}},"text":{"field":"t"}}},
{"data":{"values":[{"lat":0,"v":0}]},"mark":{"type":"point","opacity":0},"encoding":{"x":{"field":"lat","type":"quantitative","scale":{"domain":[-30,26],"nice":false,"zero":false},"axis":{"orient":"top","values":[-30,-20,-10,0,10,20],"labels":false,"title":null}},"y":{"field":"v","type":"quantitative","scale":{"domain":[0,8],"nice":false},"axis":{"orient":"right","values":[0,1,2,3,4,5,6,7,8],"labels":false,"title":null}}}}
],"resolve":{"axis":{"x":"independent","y":"independent"}}},
{"width":8.5,"height":117.5,"data":{"values":[{"x":0}]},"mark":{"type":"point","opacity":0},"encoding":{}},
{"width":421.8,"height":255,"layer":[
{"data":{"name":"heatC"},"mark":{"type":"rect","strokeWidth":0.5},"encoding":{"x":{"field":"a","type":"quantitative","scale":{"domain":[-30,26],"nice":false,"zero":false},"axis":{"orient":"bottom","values":[-30,-20,-10,0,10,20],"title":"Latitude [ ° N]","titleFontSize":16.5,"titlePadding":4}},"x2":{"field":"b"},"y":{"field":"d0","type":"quantitative","scale":{"domain":[0,1200],"reverse":true,"nice":false},"axis":{"orient":"left","values":[0,200,400,600,800,1000,1200],"title":"Depth [m]","titlePadding":12}},"y2":{"field":"d1"},"color":{"field":"n","type":"ordinal","scale":{"domain":[-1,-2,-3,-4,-6,-10,-20,-30,-40,-50,-60],"range":["#481a6c","#463480","#3b528b","#2f6c8e","#26828e","#1f9e89","#35b779","#5ac864","#90d743","#d2e21b","#fde725"]},"legend":null},"stroke":{"field":"n","type":"ordinal","scale":{"domain":[-1,-2,-3,-4,-6,-10,-20,-30,-40,-50,-60],"range":["#481a6c","#463480","#3b528b","#2f6c8e","#26828e","#1f9e89","#35b779","#5ac864","#90d743","#d2e21b","#fde725"]},"legend":null}}},
{"data":{"name":"cDash"},"mark":{"type":"line","color":"#111","strokeWidth":1,"strokeDash":[6,3]},"encoding":{"x":{"field":"lat","type":"quantitative","axis":null,"scale":{"domain":[-30,26],"nice":false,"zero":false}},"y":{"field":"d","type":"quantitative","axis":null,"scale":{"domain":[0,1200],"reverse":true,"nice":false}},"detail":{"field":"id"},"order":{"value":null}}},
{"data":{"name":"cSolid"},"mark":{"type":"line","color":"#111","strokeWidth":1},"encoding":{"x":{"field":"lat","type":"quantitative","axis":null,"scale":{"domain":[-30,26],"nice":false,"zero":false}},"y":{"field":"d","type":"quantitative","axis":null,"scale":{"domain":[0,1200],"reverse":true,"nice":false}},"detail":{"field":"id"},"order":{"value":null}}},
{"data":{"values":[{"lat":-28.2,"d":70,"t":"(c) RETRO"}]},"mark":{"type":"text","align":"left","baseline":"middle","font":"Open Sans","fontWeight":"bold","fontSize":14,"color":"white"},"encoding":{"x":{"field":"lat","type":"quantitative","axis":null,"scale":{"domain":[-30,26],"nice":false,"zero":false}},"y":{"field":"d","type":"quantitative","axis":null,"scale":{"domain":[0,1200],"reverse":true,"nice":false}},"text":{"field":"t"}}},
{"data":{"values":[{"lat":0,"d":0}]},"mark":{"type":"point","opacity":0},"encoding":{"x":{"field":"lat","type":"quantitative","scale":{"domain":[-30,26],"nice":false,"zero":false},"axis":{"orient":"top","values":[-30,-20,-10,0,10,20],"labels":false,"title":null}},"y":{"field":"d","type":"quantitative","scale":{"domain":[0,1200],"reverse":true,"nice":false},"axis":{"orient":"right","values":[0,200,400,600,800,1000,1200],"labels":false,"title":null}}}}
],"resolve":{"axis":{"x":"independent","y":"independent"}}},
{"width":421.8,"height":255,"layer":[
{"data":{"name":"heatD"},"mark":{"type":"rect","strokeWidth":0.5},"encoding":{"x":{"field":"a","type":"quantitative","scale":{"domain":[-30,26],"nice":false,"zero":false},"axis":{"orient":"bottom","values":[-30,-20,-10,0,10,20],"title":"Latitude [ ° N]","titleFontSize":16.5,"titlePadding":4}},"x2":{"field":"b"},"y":{"field":"d0","type":"quantitative","scale":{"domain":[0,1200],"reverse":true,"nice":false},"axis":{"orient":"left","values":[0,200,400,600,800,1000,1200],"labels":false,"title":null}},"y2":{"field":"d1"},"color":{"field":"n","type":"ordinal","scale":{"domain":[-1,-2,-3,-4,-6,-10,-20,-30,-40,-50,-60],"range":["#481a6c","#463480","#3b528b","#2f6c8e","#26828e","#1f9e89","#35b779","#5ac864","#90d743","#d2e21b","#fde725"]},"legend":null},"stroke":{"field":"n","type":"ordinal","scale":{"domain":[-1,-2,-3,-4,-6,-10,-20,-30,-40,-50,-60],"range":["#481a6c","#463480","#3b528b","#2f6c8e","#26828e","#1f9e89","#35b779","#5ac864","#90d743","#d2e21b","#fde725"]},"legend":null}}},
{"data":{"name":"dDash"},"mark":{"type":"line","color":"#111","strokeWidth":1,"strokeDash":[6,3]},"encoding":{"x":{"field":"lat","type":"quantitative","axis":null,"scale":{"domain":[-30,26],"nice":false,"zero":false}},"y":{"field":"d","type":"quantitative","axis":null,"scale":{"domain":[0,1200],"reverse":true,"nice":false}},"detail":{"field":"id"},"order":{"value":null}}},
{"data":{"name":"dSolid"},"mark":{"type":"line","color":"#111","strokeWidth":1},"encoding":{"x":{"field":"lat","type":"quantitative","axis":null,"scale":{"domain":[-30,26],"nice":false,"zero":false}},"y":{"field":"d","type":"quantitative","axis":null,"scale":{"domain":[0,1200],"reverse":true,"nice":false}},"detail":{"field":"id"},"order":{"value":null}}},
{"data":{"values":[{"lat":-27.7,"d":70,"t":"(d) CNTRL"}]},"mark":{"type":"text","align":"left","baseline":"middle","font":"Open Sans","fontWeight":"bold","fontSize":14,"color":"white"},"encoding":{"x":{"field":"lat","type":"quantitative","axis":null,"scale":{"domain":[-30,26],"nice":false,"zero":false}},"y":{"field":"d","type":"quantitative","axis":null,"scale":{"domain":[0,1200],"reverse":true,"nice":false}},"text":{"field":"t"}}},
{"data":{"values":[{"lat":0,"d":0}]},"mark":{"type":"point","opacity":0},"encoding":{"x":{"field":"lat","type":"quantitative","scale":{"domain":[-30,26],"nice":false,"zero":false},"axis":{"orient":"top","values":[-30,-20,-10,0,10,20],"labels":false,"title":null}},"y":{"field":"d","type":"quantitative","scale":{"domain":[0,1200],"reverse":true,"nice":false},"axis":{"orient":"right","values":[0,200,400,600,800,1000,1200],"labels":false,"title":null}}}}
],"resolve":{"axis":{"x":"independent","y":"independent"}}},
{"width":8.5,"height":255,"resolve":{"axis":{"x":"independent","y":"independent"}},"layer":[
{"data":{"name":"bands"},"mark":{"type":"rect"},"encoding":{"x":{"datum":0,"type":"quantitative","scale":{"domain":[0,1],"range":[-3.5,8.5]},"axis":null},"x2":{"datum":1},"y":{"field":"i0","type":"quantitative","scale":{"domain":[0,10],"range":[11.5,243.5],"nice":false},"axis":{"orient":"right","values":[0,1,2,3,4,5,6,7,8,9,10],"labelExpr":"['0','−1','−2','−3','−4','−6','−10','−20','−30','−40','−50'][datum.value]","domain":false,"ticks":false,"labelPadding":12,"labelFontSize":15.5,"title":"N* = NO₃ − 16×PO₄ [mmol m⁻³]","titleFont":"Open Sans","titleFontSize":13,"titleAngle":270,"titleX":58,"titleY":123,"titleAlign":"center","titleBaseline":"middle"}},"y2":{"field":"i1"},"color":{"field":"n","type":"ordinal","scale":{"domain":[-1,-2,-3,-4,-6,-10,-20,-30,-40,-50,-60],"range":["#481a6c","#463480","#3b528b","#2f6c8e","#26828e","#1f9e89","#35b779","#5ac864","#90d743","#d2e21b","#fde725"]},"legend":null}}},
{"data":{"values":[{"i0":0,"i1":10}]},"mark":{"type":"rect","fillOpacity":0,"stroke":"#333","strokeWidth":1.5},"encoding":{"x":{"datum":0,"type":"quantitative","scale":{"domain":[0,1],"range":[-3.5,8.5]},"axis":null},"x2":{"datum":1},"y":{"field":"i0","type":"quantitative","scale":{"domain":[0,10],"range":[11.5,243.5],"nice":false},"axis":null},"y2":{"field":"i1"}}},
{"data":{"values":[{"p":0.5,"i":-0.26}]},"mark":{"type":"point","filled":true,"opacity":1,"shape":"M-1,1L0,-1L1,1Z","size":144,"fill":"#440154","stroke":"#333","strokeWidth":1.2},"encoding":{"x":{"field":"p","type":"quantitative","scale":{"domain":[0,1],"range":[-3.5,8.5]},"axis":null},"y":{"field":"i","type":"quantitative","scale":{"domain":[0,10],"range":[11.5,243.5],"nice":false},"axis":null}}},
{"data":{"values":[{"p":0.5,"i":10.26}]},"mark":{"type":"point","filled":true,"opacity":1,"shape":"M-1,-1L0,1L1,-1Z","size":144,"fill":"#fde725","stroke":"#333","strokeWidth":1.2},"encoding":{"x":{"field":"p","type":"quantitative","scale":{"domain":[0,1],"range":[-3.5,8.5]},"axis":null},"y":{"field":"i","type":"quantitative","scale":{"domain":[0,10],"range":[11.5,243.5],"nice":false},"axis":null}}}
]}
]}
